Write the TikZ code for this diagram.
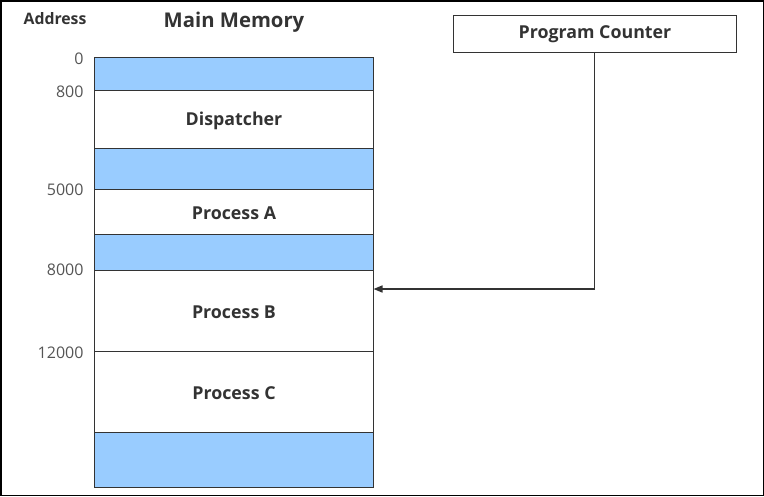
\documentclass[tikz,border=0pt]{standalone}
\usepackage{fontspec}
\setmainfont{Open Sans}
\usetikzlibrary{arrows.meta}
\definecolor{memblue}{HTML}{99CCFF}
\definecolor{ink}{HTML}{333333}
\definecolor{numgray}{HTML}{555555}
\begin{document}
\begin{tikzpicture}[x=1pt,y=-1pt,
  seg/.style={draw=ink, line width=0.9pt},
  free/.style={seg, fill=memblue},
  used/.style={seg, fill=white},
  lbl/.style={font=\bfseries\fontsize{17.8}{20}\selectfont, text=ink},
  addr/.style={font=\fontsize{16}{18}\selectfont, text=numgray, anchor=east},
  conn/.style={draw=ink, line width=1.6pt, -{Triangle[length=9pt,width=7pt]}}]
\draw[black, line width=1.5pt] (0.75,0.75) rectangle (763.25,495.25);
\path[use as bounding box] (0,0) rectangle (764,496);
% memory segments
\path[free] (94.5,57) rectangle (373.5,90.3);
\path[used] (94.5,90.3) rectangle (373.5,148.3);
\path[free] (94.5,148.3) rectangle (373.5,189.3);
\path[used] (94.5,189.3) rectangle (373.5,234.3);
\path[free] (94.5,234.3) rectangle (373.5,270.3);
\path[used] (94.5,270.3) rectangle (373.5,351);
\path[used] (94.5,351) rectangle (373.5,432.3);
\path[free] (94.5,432.3) rectangle (373.5,487.3);
\coordinate (memin) at (373.5,289);
% labels
\node[lbl] (disp) at (234,121) {Dispatcher};
\node[lbl] (pa) at (234,213.5) {Process A};
\node[lbl] (pb) at (234,312) {Process B};
\node[lbl] (pc) at (234,393) {Process C};
\node[font=\bfseries\fontsize{15.8}{18}\selectfont, text=ink] (address) at (55,19) {Address};
\node[font=\bfseries\fontsize{20.3}{23}\selectfont, text=ink] (mm) at (234,22) {Main Memory};
\node[addr] (a0) at (87,59) {0};
\node[addr] (a800) at (87,92) {800};
\node[addr] (a5000) at (87,190) {5000};
\node[addr] (a8000) at (87,269.5) {8000};
\node[addr] (a12000) at (87,352.5) {12000};
% program counter
\node[draw=ink, line width=0.9pt, minimum width=283.4pt, minimum height=37pt, inner sep=0pt,
  font=\bfseries\fontsize{17.8}{20}\selectfont, text=ink] (pcnt) at (595,33.8) {\raisebox{-1.2pt}{Program Counter}};
\draw[conn] (pcnt.south -| 594.3,0) |- (memin);
\end{tikzpicture}
\end{document}
